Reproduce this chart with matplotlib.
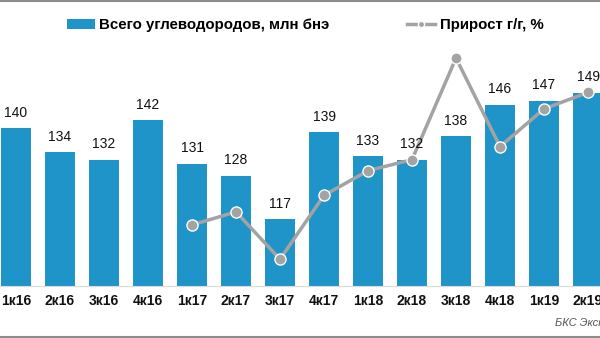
import matplotlib
matplotlib.use("Agg")
import matplotlib.pyplot as plt
from matplotlib.lines import Line2D
from matplotlib.patches import Patch
import numpy as np

categories = ["1к16", "2к16", "3к16", "4к16", "1к17", "2к17", "3к17", "4к17",
              "1к18", "2к18", "3к18", "4к18", "1к19", "2к19"]
total_hc = [140, 134, 132, 142, 131, 128, 117, 139, 133, 132, 138, 146, 147, 149]
growth_yoy = [None, None, None, None, -6.4, -4.5, -11.4, -2.1, 1.5, 3.1, 17.9, 5.0, 10.5, 12.9]

plt.rcParams['font.family'] = ['Liberation Sans', 'DejaVu Sans']

BLUE = '#1E94C8'
GREY = '#A3A3A3'

fig = plt.figure(figsize=(6.0, 3.38), dpi=100)
W, H = 600, 338
top_px, bot_px = 10, 286
ax = fig.add_axes([0, (H - bot_px) / H, 1, (bot_px - top_px) / H])
ax2 = ax.twinx()

x = np.arange(len(categories))
ax.bar(x, total_hc, width=0.68, color=BLUE, zorder=2)

ax.set_ylim(100, 170)
ax.set_xlim(-16 / 44, (600 - 16) / 44)
ax.set_yticks([])
for s in ['top', 'left', 'right']:
    ax.spines[s].set_visible(False)
ax.spines['bottom'].set_color('#D9D9D9')
ax.spines['bottom'].set_linewidth(0.8)
ax.set_xticks(x)
ax.set_xticklabels(categories, fontsize=10, fontweight='bold', color='#111111')
ax.tick_params(axis='x', length=0, pad=6)

gx = [xi for xi, g in zip(x, growth_yoy) if g is not None]
gy = [g for g in growth_yoy if g is not None]
ax2.plot(gx, gy, color=GREY, lw=2.5, marker='o', markersize=8,
         markerfacecolor=GREY, markeredgecolor='white', markeredgewidth=1.0, zorder=3)
ax2.set_ylim(-15.3, 24.9)
ax2.set_yticks([])
for s in ['top', 'left', 'right', 'bottom']:
    ax2.spines[s].set_visible(False)

# bar value labels drawn above the line
for xi, v in zip(x, total_hc):
    ax2.annotate(str(v), xy=(xi, v), xycoords=ax.transData, xytext=(0, 6),
                 textcoords='offset points', ha='center', va='bottom',
                 fontsize=10, color='#111111', zorder=5)

handles = [Patch(facecolor=BLUE, edgecolor='none'),
           Line2D([0], [0], color=GREY, lw=2.5, marker='o', markersize=4.5,
                  markerfacecolor=GREY, markeredgecolor='white')]
leg = fig.legend(handles, ["Всего углеводородов, млн бнэ", "Прирост г/г, %"],
                 loc='center', bbox_to_anchor=(305 / W, 1 - 25 / H), ncol=2, frameon=False,
                 prop={'weight': 'bold', 'size': 10.8}, columnspacing=5.2,
                 handlelength=1.85, handletextpad=0.3)

fig.text(555 / W, 1 - 323 / H, "БКС Экспресс", fontsize=8, style='italic',
         color='#555555', ha='left', va='center')

fig.add_artist(Line2D([0, 1], [1 - 0.8 / H, 1 - 0.8 / H], color='#8C8C8C', lw=1.5))
fig.add_artist(Line2D([0, 1], [1.2 / H, 1.2 / H], color='#8C8C8C', lw=1.5))

fig.savefig("out.png", dpi=100)
